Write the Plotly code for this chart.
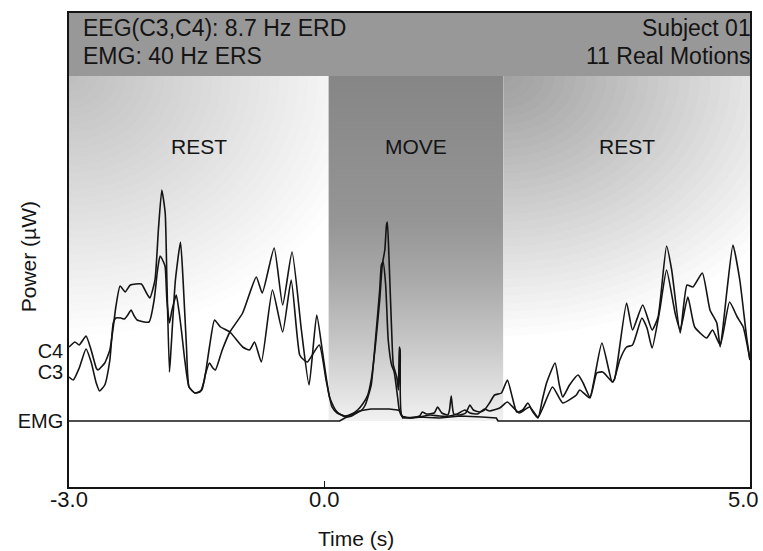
import math
import plotly.graph_objects as go

# ---------------- data ----------------
c4_t = [-3.0, -2.93, -2.88, -2.80, -2.74, -2.68, -2.66, -2.58, -2.52, -2.48, -2.45, -2.40, -2.34, -2.28,
        -2.15, -2.09, -2.05, -1.99, -1.95, -1.91, -1.87, -1.85, -1.82, -1.80, -1.75, -1.69, -1.66, -1.62,
        -1.59, -1.52, -1.46, -1.41, -1.35, -1.29, -1.22, -1.11, -0.96, -0.88, -0.82, -0.74, -0.61, -0.49,
        -0.39, -0.29, -0.24, -0.20, -0.06, 0.02, 0.09, 0.15, 0.24, 0.32, 0.39, 0.45, 0.51, 0.55, 0.60,
        0.65, 0.68, 0.71, 0.73, 0.74, 0.76, 0.79, 0.81, 0.85, 0.87, 0.88, 0.89, 0.91, 1.00, 1.12, 1.15,
        1.20, 1.29, 1.33, 1.38, 1.45, 1.47, 1.49, 1.52, 1.59, 1.66, 1.71, 1.75, 1.82, 1.88, 1.94, 2.00,
        2.08, 2.15, 2.21, 2.26, 2.33, 2.39, 2.45, 2.51, 2.56, 2.61, 2.71, 2.76, 2.80, 2.88, 2.98, 3.04,
        3.12, 3.26, 3.38, 3.41, 3.55, 3.62, 3.74, 3.85, 3.92, 4.02, 4.08, 4.18, 4.26, 4.33, 4.44, 4.53,
        4.61, 4.65, 4.73, 4.80, 4.88, 4.96, 5.00]
c4_v = [7.4, 7.9, 7.6, 8.5, 7.1, 5.3, 5.1, 5.8, 7.1, 9.4, 11.4, 13.5, 12.9, 13.6,
        13.7, 12.8, 12.3, 14.1, 19.1, 23.1, 20.8, 14.1, 4.9, 7.4, 14.1, 17.9, 14.1, 7.4,
        3.4, 2.8, 2.9, 4.1, 7.4, 10.1, 9.4, 8.9, 7.4, 7.1, 7.9, 5.9, 13.1, 8.9,
        14.1, 6.6, 6.1, 5.9, 7.6, 4.1, 1.4, 0.8, 0.5, 0.7, 1.1, 1.7, 2.6, 4.1, 7.6,
        12.1, 15.6, 17.1, 19.6, 19.9, 16.1, 9.1, 5.6, 4.4, 3.1, 7.4, 7.1, 0.5, 0.3, 0.5, 0.9,
        0.7, 0.8, 1.4, 0.8, 0.6, 1.1, 2.5, 0.7, 0.6, 0.8, 1.6, 1.1, 0.9, 1.1, 1.8, 2.6,
        2.8, 4.1, 2.3, 0.9, 1.1, 1.8, 0.9, 0.3, 2.1, 3.8, 5.8, 3.6, 2.4, 3.6, 4.6, 3.8,
        2.4, 7.8, 3.9, 4.2, 11.8, 9.1, 11.6, 9.1, 10.4, 17.5, 15.1, 8.8, 13.6, 13.4, 14.8, 11.1,
        9.8, 7.4, 13.1, 17.6, 14.1, 8.4, 6.1]

c3_t = [-3.0, -2.95, -2.88, -2.80, -2.74, -2.68, -2.64, -2.58, -2.52, -2.48, -2.45, -2.39, -2.35, -2.31,
        -2.27, -2.24, -2.20, -2.06, -2.00, -1.96, -1.93, -1.89, -1.87, -1.85, -1.82, -1.79, -1.74, -1.71,
        -1.68, -1.64, -1.59, -1.52, -1.44, -1.40, -1.35, -1.31, -1.28, -1.20, -1.11, -0.96, -0.80, -0.73,
        -0.59, -0.49, -0.38, -0.27, -0.18, -0.09, -0.02, 0.06, 0.13, 0.18, 0.26, 0.32, 0.38, 0.44, 0.48,
        0.55, 0.60, 0.65, 0.67, 0.69, 0.72, 0.75, 0.79, 0.82, 0.86, 0.88, 0.91, 1.02, 1.12, 1.24, 1.35,
        1.47, 1.56, 1.65, 1.71, 1.80, 1.88, 1.94, 2.06, 2.15, 2.29, 2.41, 2.51, 2.68, 2.80, 2.96, 3.00,
        3.12, 3.20, 3.27, 3.39, 3.47, 3.55, 3.62, 3.73, 3.79, 3.85, 3.94, 4.02, 4.12, 4.18, 4.27, 4.35,
        4.49, 4.56, 4.65, 4.76, 4.85, 4.92, 5.00]
c3_v = [4.4, 4.1, 5.3, 7.2, 5.9, 3.8, 3.0, 3.6, 6.1, 9.8, 10.3, 10.3, 10.2, 10.6,
        11.1, 10.6, 10.1, 9.9, 12.1, 15.1, 16.5, 15.9, 15.4, 12.1, 9.8, 11.1, 12.6, 11.1,
        9.1, 6.1, 3.4, 2.8, 3.1, 4.6, 5.8, 5.3, 5.1, 7.1, 8.9, 10.8, 14.4, 12.8,
        17.3, 11.6, 16.9, 9.1, 3.6, 10.6, 6.8, 2.4, 1.1, 0.7, 0.4, 0.5, 0.8, 1.1, 1.6,
        3.6, 8.1, 13.1, 15.6, 15.9, 13.6, 8.1, 5.6, 4.9, 2.4, 1.1, 0.5, 0.3, 0.4, 0.6, 0.5,
        0.5, 0.7, 1.1, 0.8, 0.7, 1.2, 1.0, 1.3, 1.9, 0.8, 1.4, 0.4, 3.4, 1.8, 2.6, 3.1,
        2.3, 4.8, 4.9, 3.9, 6.1, 7.4, 7.6, 10.3, 9.3, 7.3, 11.1, 15.1, 10.8, 9.1, 12.4, 9.4,
        8.3, 9.1, 7.6, 11.9, 10.4, 9.4, 6.1]

emg_t = [-3.0, 0.18, 0.24, 0.32, 0.41, 0.47, 0.55, 0.65, 0.76, 0.86, 0.89, 0.92, 1.10, 1.35, 1.60,
         1.85, 2.02, 2.04, 5.0]
emg_v = [0.0, 0.0, 0.3, 0.6, 1.0, 1.1, 1.2, 1.2, 1.2, 1.1, 1.0, 0.3, 0.4, 0.3, 0.5,
         0.4, 0.3, 0.0, 0.0]

phase_names = ["REST", "MOVE", "REST"]
phase_start = [-3.0, 0.05, 2.1]
phase_end = [0.05, 2.1, 5.0]

x_tick_vals = [-3.0, 0.0, 5.0]
x_tick_text = ["-3.0", "0.0", "5.0"]
trace_label_names = ["EMG", "C3", "C4"]
trace_label_pos = [0.0, 4.9, 7.0]

header_left = ["EEG(C3,C4): 8.7 Hz ERD", "EMG: 40 Hz ERS"]
header_right = ["Subject 01", "11 Real Motions"]

assert len(c4_t) == len(c4_v) and len(c3_t) == len(c3_v) and len(emg_t) == len(emg_v)

# ---------------- layout constants ----------------
X_RANGE = [-3.0, 5.0]
Y_RANGE = [-6.6, 40.8]
HEADER_Y0 = 34.5
FONT = "Arial, Liberation Sans, sans-serif"
INK = "#141414"

fig = go.Figure()

# MOVE phase: dark stipple fading toward the bottom
m0, m1 = phase_start[1], phase_end[1]
fig.add_trace(go.Scatter(
    x=[m0, m1, m1, m0, m0], y=[0, 0, HEADER_Y0, HEADER_Y0, 0],
    mode="lines", fill="toself", line=dict(width=0), hoverinfo="skip", showlegend=False,
    fillgradient=dict(type="vertical", start=0, stop=HEADER_Y0,
                      colorscale=[[0.0, "#f1f1f1"], [0.09, "#e0e0e0"], [0.23, "#c6c6c6"],
                                  [0.41, "#a9a9a9"], [0.58, "#959595"], [1.0, "#868686"]]),
))

# curves (EEG traces drawn smooth, EMG envelope straight)
for name, tt, vv, shape in [("C4", c4_t, c4_v, "spline"), ("C3", c3_t, c3_v, "spline"),
                            ("EMG", emg_t, emg_v, "linear")]:
    line = dict(color=INK, width=1.6, shape=shape)
    if shape == "spline":
        line["smoothing"] = 0.5
    fig.add_trace(go.Scatter(x=tt, y=vv, mode="lines", name=name, showlegend=False,
                             line=line, hoverinfo="skip"))

shapes = []
# header band
shapes.append(dict(type="rect", xref="x", yref="y", x0=X_RANGE[0], x1=X_RANGE[1], y0=HEADER_Y0,
                   y1=Y_RANGE[1], fillcolor="#989898", line=dict(width=0), layer="below"))


def quarter(cx, cy, rx, ry, n=28):
    pts = [(cx, cy)]
    for i in range(n + 1):
        a = (math.pi / 2) * i / n
        pts.append((cx + rx * math.cos(a), cy - ry * math.sin(a)))
    return "M " + " L ".join(f"{x:.4f},{y:.4f}" for x, y in pts) + " Z"


# light stipple in the REST phases: nested translucent quarter ellipses from the top-left corner
N_LAYERS = 32
for (cx, rx, ry, alpha) in [(phase_start[0], 3.6, 26.0, 0.0085), (phase_start[2], 3.9, 26.0, 0.010)]:
    for k in range(1, N_LAYERS + 1):
        f = k / N_LAYERS
        shapes.append(dict(type="path", xref="x", yref="y", path=quarter(cx, HEADER_Y0, rx * f, ry * f),
                           fillcolor=f"rgba(0,0,0,{alpha})", line=dict(width=0), layer="below"))

fig.update_layout(shapes=shapes)

annotations = []
for name, s, e in zip(phase_names, phase_start, phase_end):
    annotations.append(dict(x=(s + e) / 2, y=27.5, xref="x", yref="y", text=name, showarrow=False,
                            font=dict(family=FONT, size=21, color=INK)))
for i, (tl, tr) in enumerate(zip(header_left, header_right)):
    yy = 39.3 - 2.8 * i
    annotations.append(dict(x=0.018, y=yy, xref="paper", yref="y", text=tl, showarrow=False,
                            xanchor="left", yanchor="middle", font=dict(family=FONT, size=23, color=INK)))
    annotations.append(dict(x=1.004, y=yy, xref="paper", yref="y", text=tr, showarrow=False,
                            xanchor="right", yanchor="middle", font=dict(family=FONT, size=23, color=INK)))
# x tick labels (the last one sits inside the page edge, as in the original)
for i, (v, txt) in enumerate(zip(x_tick_vals, x_tick_text)):
    last = i == len(x_tick_vals) - 1
    annotations.append(dict(x=v, y=-0.027, xref="x", yref="paper", text=txt, showarrow=False,
                            xanchor="right" if last else "center", xshift=11 if last else 0,
                            yanchor="middle", font=dict(family=FONT, size=22, color=INK)))
annotations.append(dict(x=-0.060, y=0.485, xref="paper", yref="paper", text="Power (\u00b5W)",
                        xanchor="center", yanchor="middle",
                        textangle=-90, showarrow=False, font=dict(family=FONT, size=21, color=INK)))
annotations.append(dict(x=0.421, y=-0.108, xref="paper", yref="paper", text="Time (s)",
                        xanchor="center", yanchor="middle",
                        showarrow=False, font=dict(family=FONT, size=21, color=INK)))

fig.update_layout(
    width=763, height=551,
    margin=dict(l=69, r=13, t=13, b=64),
    paper_bgcolor="white", plot_bgcolor="white",
    annotations=annotations,
    hovermode=False,
    xaxis=dict(range=X_RANGE, showgrid=False, zeroline=False, showline=True, mirror=True,
               linecolor=INK, linewidth=1.5, ticks="inside", ticklen=6, tickwidth=1.2, tickcolor=INK,
               tickvals=x_tick_vals, showticklabels=False),
    yaxis=dict(range=Y_RANGE, showgrid=False, zeroline=False, showline=True, mirror=True,
               linecolor=INK, linewidth=1.5, ticks="",
               tickvals=trace_label_pos, ticktext=trace_label_names,
               tickfont=dict(family=FONT, size=20, color=INK)),
)

fig.write_html("out.html", config={"displayModeBar": False},
               post_script="document.body.style.margin='0px';document.body.style.overflow='hidden';")
